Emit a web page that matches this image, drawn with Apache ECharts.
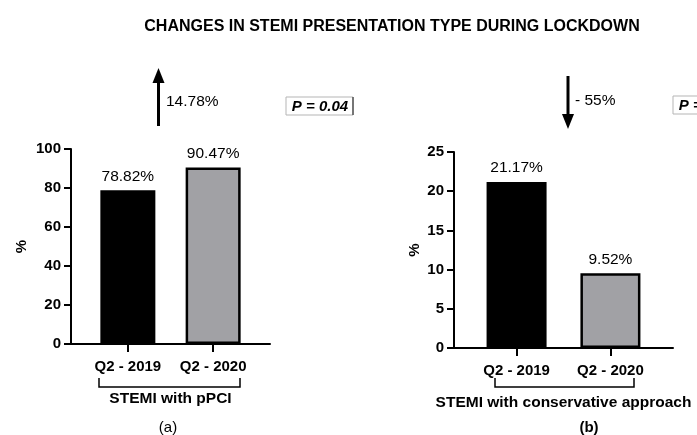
<!DOCTYPE html>
<html>
<head>
<meta charset="utf-8">
<title>STEMI presentation type</title>
<script src="https://cdn.jsdelivr.net/npm/echarts@6/dist/echarts.min.js"></script>
<style>
  html, body { margin: 0; padding: 0; background: #fff; }
  #chart { width: 697px; height: 435px; }
</style>
</head>
<body>
<div id="chart"></div>
<script>
// categories and values
const categories = ['Q2 - 2019', 'Q2 - 2020']
const pciValues = [78.82, 90.47]          // STEMI with pPCI, %
const conservativeValues = [21.17, 9.52]  // STEMI with conservative approach, %
const pciTicks = [0, 20, 40, 60, 80, 100]
const conservativeTicks = [0, 5, 10, 15, 20, 25]
const changeLabels = ['14.78%', '- 55%']
const pLabels = ['P = 0.04', 'P = 0.04']
const groupNames = ['STEMI with pPCI', 'STEMI with conservative approach']
const panelNames = ['(a)', '(b)']

const FONT = '"Liberation Sans", Arial, sans-serif'
const barColors = ['#000000', '#a1a1a5']

// positions 1, 2 on a value axis so the bars sit like the GraphPad layout
function toPoints(values) {
  return values.map((v, i) => ({
    value: [i + 1, v],
    itemStyle: { color: barColors[i], borderColor: '#000', borderWidth: 2.5 }
  }))
}

function makeXAxis(gridIndex, name) {
  return {
    gridIndex: gridIndex,
    type: 'value',
    min: 1 / 3,
    max: 8 / 3,
    name: name,
    nameLocation: 'middle',
    nameGap: 47,
    nameTextStyle: { fontFamily: FONT, fontWeight: 'bold', fontSize: 15.5, color: '#000' },
    axisLine: { lineStyle: { color: '#000', width: 2 } },
    axisTick: { customValues: [1, 2], length: 8, lineStyle: { color: '#000', width: 2 } },
    axisLabel: {
      customValues: [1, 2],
      margin: 15,
      formatter: v => categories[Math.round(v) - 1],
      fontFamily: FONT, fontWeight: 'bold', fontSize: 15, color: '#000'
    },
    splitLine: { show: false }
  }
}

function makeYAxis(gridIndex, ticks, nameGap) {
  return {
    gridIndex: gridIndex,
    type: 'value',
    min: ticks[0],
    max: ticks[ticks.length - 1],
    interval: ticks[1] - ticks[0],
    name: '%',
    nameLocation: 'middle',
    nameRotate: 90,
    nameGap: nameGap,
    nameTextStyle: { fontFamily: FONT, fontWeight: 'bold', fontSize: 15, color: '#000' },
    axisLine: { show: true, lineStyle: { color: '#000', width: 2 } },
    axisTick: { show: true, length: 7, lineStyle: { color: '#000', width: 2 } },
    axisLabel: { margin: 10, fontFamily: FONT, fontWeight: 'bold', fontSize: 15, color: '#000' },
    splitLine: { show: false }
  }
}

function makeSeries(index, values) {
  return {
    type: 'bar',
    xAxisIndex: index,
    yAxisIndex: index,
    barWidth: index === 0 ? 55 : 60,
    data: toPoints(values),
    label: {
      show: true,
      position: 'top',
      distance: 6,
      formatter: p => p.value[1].toFixed(2) + '%',
      fontFamily: FONT, fontSize: 15.5, color: '#000'
    }
  }
}

function arrow(x, yFrom, yTo) {
  // yFrom = tail, yTo = tip
  const dir = yTo < yFrom ? -1 : 1
  const headLen = 15
  return [
    { type: 'line', shape: { x1: x, y1: yFrom, x2: x, y2: yTo - dir * headLen }, style: { stroke: '#000', lineWidth: 3 } },
    { type: 'polygon', shape: { points: [[x, yTo], [x - 6, yTo - dir * headLen], [x + 6, yTo - dir * headLen]] }, style: { fill: '#000' } }
  ]
}

function pBox(x, y, text) {
  return [
    { type: 'rect', shape: { x: x, y: y, width: 67, height: 18 }, style: { fill: '#fff', stroke: '#b5b5b5', lineWidth: 1 } },
    { type: 'line', shape: { x1: x + 67, y1: y, x2: x + 67, y2: y + 18 }, style: { stroke: '#555', lineWidth: 1.5 } },
    { type: 'text', x: x + 34, y: y + 9.5, style: { text: text, fontFamily: FONT, fontWeight: 'bold', fontStyle: 'italic', fontSize: 15, fill: '#000', align: 'center', verticalAlign: 'middle' } }
  ]
}

function bracket(x1, x2, yLine, yTop) {
  return {
    type: 'polyline',
    shape: { points: [[x1, yTop], [x1, yLine], [x2, yLine], [x2, yTop]] },
    style: { stroke: '#000', lineWidth: 1.5, fill: null }
  }
}

function plainText(x, y, text, opts) {
  return {
    type: 'text', x: x, y: y,
    style: Object.assign({ text: text, fontFamily: FONT, fontSize: 15.5, fill: '#000', align: 'left', verticalAlign: 'middle' }, opts || {})
  }
}

const myChart = echarts.init(document.getElementById('chart'), null, { renderer: 'canvas' })

const option = {
  backgroundColor: '#fff',
  animation: false,
  grid: [
    { left: 71, top: 149, width: 199, height: 195 },
    { left: 454, top: 152, width: 219, height: 196 }
  ],
  xAxis: [makeXAxis(0, groupNames[0]), makeXAxis(1, groupNames[1])],
  yAxis: [makeYAxis(0, pciTicks, 42), makeYAxis(1, conservativeTicks, 32)],
  series: [makeSeries(0, pciValues), makeSeries(1, conservativeValues)],
  graphic: [
    plainText(392, 27, 'CHANGES IN STEMI PRESENTATION TYPE DURING LOCKDOWN', { fontWeight: 'bold', fontSize: 16, align: 'center' }),
    ...arrow(158.5, 126, 68),
    plainText(166, 102, changeLabels[0]),
    ...pBox(286, 97, pLabels[0]),
    ...arrow(568, 76, 129),
    plainText(575, 101, changeLabels[1]),
    ...pBox(673, 96, pLabels[1]),
    bracket(99, 240, 387, 378),
    bracket(495, 634, 387, 378),
    plainText(168, 428, panelNames[0], { align: 'center', fontSize: 15 }),
    plainText(589, 428, panelNames[1], { align: 'center', fontSize: 15, fontWeight: 'bold' })
  ]
}

myChart.setOption(option)
window.onresize = () => { myChart.resize() }
</script>
</body>
</html>
